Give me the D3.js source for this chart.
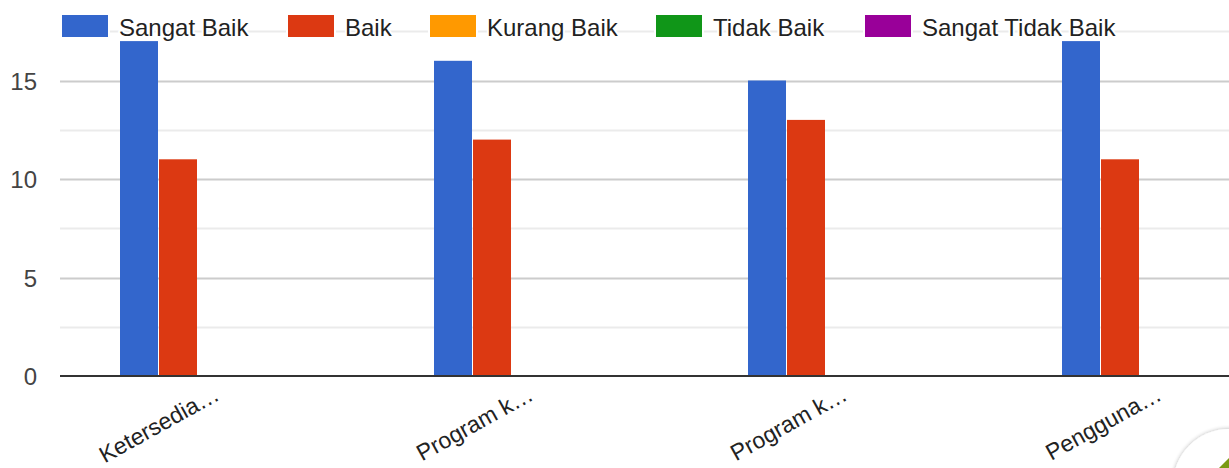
<!DOCTYPE html>
<html><head><meta charset="utf-8">
<script src="https://cdn.jsdelivr.net/npm/d3@7"></script>
<style>body{margin:0;background:#fff;overflow:hidden}svg{display:block;font-family:"Liberation Sans",Arial,sans-serif}</style>
</head><body><svg id="c" width="1229" height="468"></svg>
<script>
const categories = ["Ketersedia…", "Program k…", "Program k…", "Pengguna…"];
const seriesNames = ["Sangat Baik", "Baik", "Kurang Baik", "Tidak Baik", "Sangat Tidak Baik"];
const seriesColors = ["#3366cc", "#dc3912", "#ff9900", "#109618", "#990099"];
const sangatBaik = [17, 16, 15, 17];
const baik = [11, 12, 13, 11];
const kurangBaik = [0, 0, 0, 0];
const tidakBaik = [0, 0, 0, 0];
const sangatTidakBaik = [0, 0, 0, 0];
const yTicks = [0, 5, 10, 15];
const yMinor = [2.5, 7.5, 12.5, 17.5];

const series = [sangatBaik, baik, kurangBaik, tidakBaik, sangatTidakBaik];
const svg = d3.select("#c");
const left = 60, bottom = 376;
const x = d3.scaleBand().domain(d3.range(categories.length)).range([left, left + 314 * 4]).paddingInner(0).paddingOuter(0);
const inner = d3.scaleBand().domain(d3.range(series.length)).range([0, 195]).padding(0);
const y = d3.scaleLinear().domain([0, 17.5]).range([bottom, bottom - 17.5 * 19.7]);

// gridlines
svg.append("g").selectAll("line").data(yMinor).join("line")
  .attr("x1", left).attr("x2", 1229).attr("y1", d => Math.round(y(d)) + 0.5).attr("y2", d => Math.round(y(d)) + 0.5)
  .attr("stroke", "#ebebeb").attr("stroke-width", 2);
svg.append("g").selectAll("line").data(yTicks.filter(d => d > 0)).join("line")
  .attr("x1", left).attr("x2", 1229).attr("y1", d => Math.round(y(d)) + 0.5).attr("y2", d => Math.round(y(d)) + 0.5)
  .attr("stroke", "#cccccc").attr("stroke-width", 2);

// y tick labels
svg.append("g").selectAll("text").data(yTicks).join("text")
  .attr("x", 37).attr("y", d => y(d) + 9).attr("text-anchor", "end")
  .attr("font-size", 24).attr("fill", "#444").text(d => d);

// bars
const groups = svg.append("g").selectAll("g").data(categories).join("g")
  .attr("transform", (d, i) => `translate(${x(i) + (x.bandwidth() - 195) / 2},0)`);
groups.selectAll("rect").data((d, i) => series.map((s, j) => ({ v: s[i], j })).filter(o => o.v > 0)).join("rect")
  .attr("x", o => inner(o.j) + 0.5).attr("width", inner.bandwidth() - 1)
  .attr("y", o => y(o.v)).attr("height", o => bottom - y(o.v))
  .attr("fill", o => seriesColors[o.j]);

// baseline
svg.append("line").attr("x1", left).attr("x2", 1229).attr("y1", bottom).attr("y2", bottom)
  .attr("stroke", "#333").attr("stroke-width", 2);

// x labels
svg.append("g").selectAll("text").data(categories).join("text")
  .attr("transform", (d, i) => `translate(${x(i) + x.bandwidth() / 2 + 4},${bottom + 23}) rotate(-29)`)
  .attr("text-anchor", "end").attr("font-size", 23).attr("fill", "#222").text(d => d);

// legend
const legendX = [62, 288, 430, 656, 865];
const lg = svg.append("g").selectAll("g").data(seriesNames).join("g")
  .attr("transform", (d, i) => `translate(${legendX[i]},15)`);
lg.each(function (d, i) {
  const g = d3.select(this);
  g.append("rect").attr("x", -2).attr("y", -2).attr("width", 50).attr("height", 26).attr("fill", "#fff");
  g.append("rect").attr("x", 0).attr("y", 0).attr("width", 46).attr("height", 22)
    .attr("fill", seriesColors[i]);
  g.append("text").attr("x", 57).attr("y", 21).attr("font-size", 24).attr("fill", "#222")
    .attr("stroke", "#fff").attr("stroke-width", 4).attr("stroke-linejoin", "round")
    .style("paint-order", "stroke").text(d);
});

// corner button
const defs = svg.append("defs");
const f = defs.append("filter").attr("id", "sh").attr("x", "-50%").attr("y", "-50%").attr("width", "200%").attr("height", "200%");
f.append("feGaussianBlur").attr("in", "SourceAlpha").attr("stdDeviation", 2);
f.append("feComponentTransfer").append("feFuncA").attr("type", "linear").attr("slope", 0.3);
const m = f.append("feMerge"); m.append("feMergeNode"); m.append("feMergeNode").attr("in", "SourceGraphic");
svg.append("circle").attr("cx", 1229).attr("cy", 485).attr("r", 56).attr("fill", "#fff").attr("filter", "url(#sh)");
svg.append("path").attr("d", "M1219,468 L1229,458 L1229,468 Z").attr("fill", "#7a9a12");
</script></body></html>
